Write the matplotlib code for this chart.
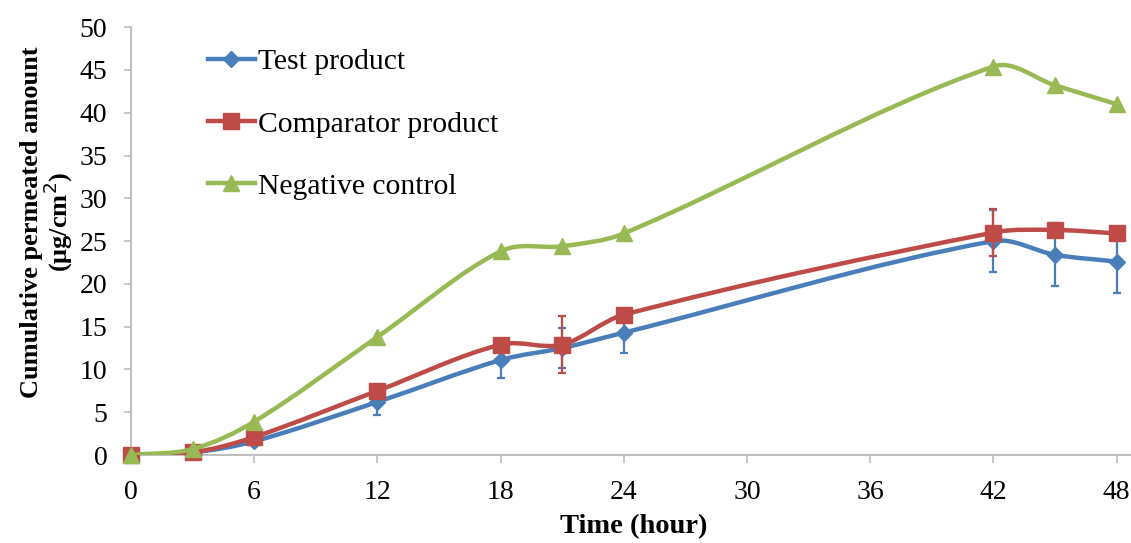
import numpy as np
import matplotlib
matplotlib.use("Agg")
import matplotlib.pyplot as plt
from matplotlib.path import Path
from matplotlib.patches import PathPatch
from matplotlib.lines import Line2D

plt.rcParams['font.family'] = ['Liberation Serif', 'DejaVu Serif']

# data
hours = [0, 3, 6, 12, 18, 21, 24, 42, 45, 48]
test = [0, 0.3, 1.6, 6.2, 11.1, 12.5, 14.3, 25.0, 23.4, 22.6]
test_err = [0, 0.2, 0.4, 1.5, 2.1, 2.3, 2.4, 3.6, 3.7, 3.7]
comp = [0, 0.3, 2.1, 7.5, 12.9, 12.9, 16.4, 26.0, 26.3, 25.9]
comp_err = [0, 0.2, 0.4, 0.5, 0.5, 3.3, 0.6, 2.7, 0.6, 0.6]
neg = [0, 0.7, 3.9, 13.8, 23.8, 24.4, 25.9, 45.4, 43.2, 41.0]

names = ['Test product', 'Comparator product', 'Negative control']
colors = ['#4A7EBB', '#BE4B48', '#98B954']
markers = ['D', 's', '^']
msizes = [8, 12, 11]


def smooth_path(x, y):
    # smoothed line as cubic Bezier segments, tangents from neighbouring points
    x = np.asarray(x, float)
    y = np.asarray(y, float)
    n = len(x)
    slope = np.empty(n)
    for i in range(n):
        a, b = max(i - 1, 0), min(i + 1, n - 1)
        slope[i] = (y[b] - y[a]) / (x[b] - x[a])
    verts = [(x[0], y[0])]
    codes = [Path.MOVETO]
    for i in range(n - 1):
        h = (x[i + 1] - x[i]) / 3
        verts += [(x[i] + h, y[i] + h * slope[i]),
                  (x[i + 1] - h, y[i + 1] - h * slope[i + 1]),
                  (x[i + 1], y[i + 1])]
        codes += [Path.CURVE4] * 3
    return Path(verts, codes)


fig = plt.figure(figsize=(11.31, 5.43), dpi=100)
ax = fig.add_axes([0.1158, 0.162, 0.8842, 0.788])

series = [(test, test_err), (comp, comp_err), (neg, None)]
handles = []
for k, (vals, err) in enumerate(series):
    c = colors[k]
    if err is not None:
        ax.errorbar(hours, vals, yerr=err, fmt='none', ecolor=c, elinewidth=1.6,
                    capsize=3, capthick=1.6, zorder=2 + k * 3)
    ax.add_patch(PathPatch(smooth_path(hours, vals), fill=False, edgecolor=c,
                           lw=3.2, capstyle='round', joinstyle='round', zorder=3 + k * 3))
    ax.plot(hours, vals, linestyle='none', marker=markers[k], ms=msizes[k],
            color=c, mec=c, zorder=4 + k * 3, clip_on=False)
    handles.append(Line2D([], [], color=c, lw=3.2, marker=markers[k], ms=msizes[k], mec=c))

ax.set_xlim(0, 48.7)
ax.set_ylim(0, 50)
ax.set_xticks(np.arange(0, 49, 6))
ax.set_yticks(np.arange(0, 51, 5))
ax.tick_params(axis='both', labelsize=20, color='#BFBFBF', width=1.2)
ax.tick_params(axis='y', length=5, pad=12)
ax.tick_params(axis='x', length=6, pad=12)
for s in ['top', 'right']:
    ax.spines[s].set_visible(False)
for s in ['left', 'bottom']:
    ax.spines[s].set_color('#BFBFBF')
    ax.spines[s].set_linewidth(1.5)

ax.legend(handles, names, loc='upper left', bbox_to_anchor=(0.05, 1.012), frameon=False,
          fontsize=21.3, handlelength=1.6, handletextpad=0.1, labelspacing=1.2)

fig.text(634 / 1131, 1 - 527 / 543, 'Time (hour)', ha='center', va='center',
         fontsize=20.5, fontweight='bold')
fig.text(0.042, 0.591, 'Cumulative permeated amount\n(\u03bcg/cm$^2$)', rotation=90,
         ha='center', va='center', fontsize=19, fontweight='bold', linespacing=0.95)

fig.savefig('out.png', dpi=100)
